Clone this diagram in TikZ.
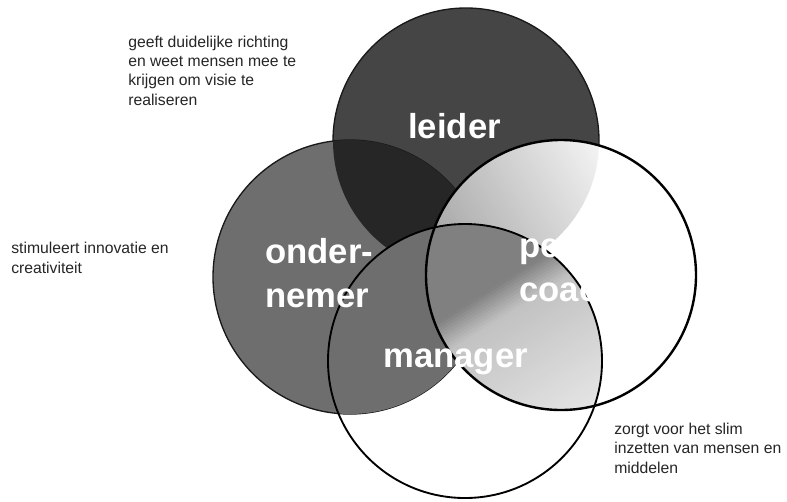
\documentclass[tikz,border=0pt]{standalone}
\usepackage{fontspec}
\setmainfont{Liberation Sans}
\usetikzlibrary{calc}
\begin{document}
\begin{tikzpicture}[x=0.75pt,y=-0.75pt,
  lbl/.style={text=white,font=\bfseries\fontsize{26}{32.5}\selectfont,inner sep=0pt,anchor=base west,align=left},
  desc/.style={text=black!85,font=\fontsize{11.8}{14.4}\selectfont,inner sep=0pt,anchor=base west,align=left},
  thinring/.style={line width=1.0pt,draw=black!90},
  thickring/.style={line width=1.8pt,draw=black}]
\fill[white] (0,0) rectangle (787,501);
\useasboundingbox (0,0) rectangle (787,501);
\def\rL{99.75pt}\def\rO{102.75pt}\def\rP{101.25pt}\def\rM{102.75pt}
\coordinate (cL) at (466,141);
\coordinate (cO) at (350,277);
\coordinate (cP) at (561,275);
\coordinate (cM) at (465,361);
% gradient helpers
\coordinate (oA) at (409,191);
\coordinate (dA) at (0.532,0.847);
\coordinate (nA) at (-0.847,0.532);
\coordinate (oB) at (395.5,270.3);
\coordinate (dB) at (0.862,-0.507);
\coordinate (nB) at (0.507,0.862);
% leider
\fill[black!73] (cL) circle[radius=\rL];
\draw[thinring] (cL) circle[radius=\rL];
% ondernemer
\fill[black!57] (cO) circle[radius=\rO];
\draw[thinring] (cO) circle[radius=\rO];
\begin{scope}
  \clip (cL) circle[radius=\rL];
  \fill[black!85] (cO) circle[radius=\rO];
\end{scope}
\begin{scope}
  \clip (cM) circle[radius=\rM];
  \fill[black!57] (cO) circle[radius=\rO];
\end{scope}
% people coach
\fill[white] (cP) circle[radius=\rP];
\begin{scope}
  \clip (cP) circle[radius=\rP];
  \clip (cL) circle[radius=\rL];
  \foreach \s in {0,3,...,300}{
    \pgfmathsetmacro\c{\s<40 ? 36 : max(4,36-(\s-40)*0.16)}
    \pgfmathsetmacro\t{\s+3.6}
    \fill[black!\c] ($(oB)+\s*(dB)-400*(nB)$) -- ($(oB)+\s*(dB)+400*(nB)$) -- ($(oB)+\t*(dB)+400*(nB)$) -- ($(oB)+\t*(dB)-400*(nB)$) -- cycle;
  }
\end{scope}
\begin{scope}
  \clip (cP) circle[radius=\rP];
  \clip (cM) circle[radius=\rM];
  \foreach \s in {0,3,...,320}{
    \pgfmathsetmacro\c{\s<125 ? 50 : (\s<155 ? 50-(\s-125)*26/30 : max(8,24-(\s-155)*16/145))}
    \pgfmathsetmacro\t{\s+3.6}
    \fill[black!\c] ($(oA)+\s*(dA)-400*(nA)$) -- ($(oA)+\s*(dA)+400*(nA)$) -- ($(oA)+\t*(dA)+400*(nA)$) -- ($(oA)+\t*(dA)-400*(nA)$) -- cycle;
  }
\end{scope}
\draw[thickring] (cP) circle[radius=\rP];
\draw[line width=1.4pt] (cM) circle[radius=\rM];
% labels (base anchor = baseline of the last line)
\node[lbl] (tL) at (408,138) {leider};
\node[lbl] (tO) at (265,307) {onder-\\nemer};
\node[lbl] (tP) at (519,301) {people-\\coach};
\node[lbl] (tM) at (383,367) {manager};
% descriptions
\node[desc] (dL) at (128,105) {geeft duidelijke richting\\en weet mensen mee te\\krijgen om visie te\\realiseren};
\node[desc] (dO) at (11,273) {stimuleert innovatie en\\creativiteit};
\node[desc] (dM) at (614,473) {zorgt voor het slim\\inzetten van mensen en\\middelen};
\end{tikzpicture}
\end{document}
